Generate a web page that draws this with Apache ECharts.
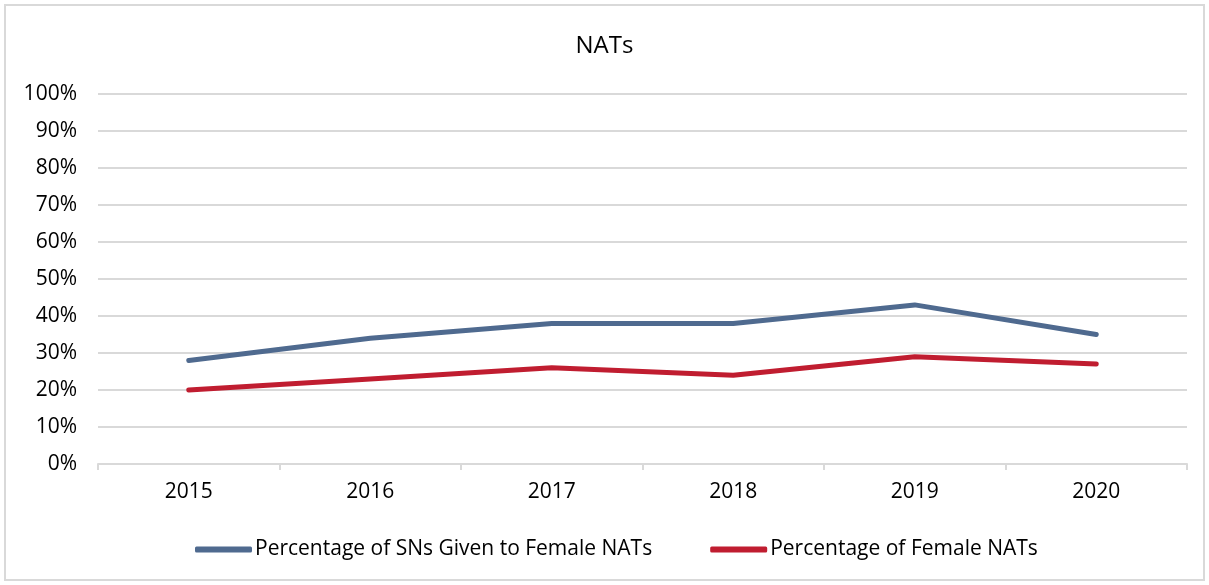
<!DOCTYPE html>
<html>
<head>
<meta charset="utf-8">
<script src="https://cdn.jsdelivr.net/npm/echarts@6/dist/echarts.min.js"></script>
<style>
  html, body { margin: 0; padding: 0; background: #fff; }
  #main { width: 1209px; height: 585px; }
</style>
</head>
<body>
<div id="main"></div>
<script>
// data
var years = ['2015', '2016', '2017', '2018', '2019', '2020'];
var snsFemale = [28, 34, 38, 38, 43, 35];
var femaleNats = [20, 23, 26, 24, 29, 27];
var seriesNames = ['Percentage of SNs Given to Female NATs', 'Percentage of Female NATs'];

var myChart = echarts.init(document.getElementById('main'));
var font = 'Open Sans';

var option = {
    animation: false,
    graphic: [{
        type: 'rect',
        shape: { x: 5, y: 5, width: 1199, height: 575 },
        style: { fill: 'none', stroke: '#d9d9d9', lineWidth: 2 },
        silent: true
    }],
    title: {
        text: 'NATs',
        left: 'center',
        top: 29,
        textStyle: { color: '#000', fontSize: 24, fontWeight: 'normal', fontFamily: font }
    },
    legend: {
        bottom: 20,
        left: 190,
        icon: 'roundRect',
        itemWidth: 57,
        itemHeight: 6,
        itemGap: 58,
        textStyle: { color: '#000', fontSize: 21, fontFamily: font, padding: [0, 0, 0, -2] },
        data: seriesNames
    },
    grid: {
        left: 98,
        right: 22,
        top: 94,
        bottom: 121,
        containLabel: false
    },
    xAxis: {
        type: 'category',
        boundaryGap: true,
        data: years,
        axisLine: { lineStyle: { color: '#d9d9d9', width: 2 } },
        axisTick: { show: true, length: 6, lineStyle: { color: '#d9d9d9', width: 2 } },
        axisLabel: { color: '#000', fontSize: 21, fontFamily: font, margin: 18 }
    },
    yAxis: {
        type: 'value',
        min: 0,
        max: 100,
        interval: 10,
        axisLine: { show: false },
        axisTick: { show: false },
        axisLabel: { color: '#000', fontSize: 21, fontFamily: font, margin: 21, formatter: '{value}%' },
        splitLine: { lineStyle: { color: '#d9d9d9', width: 2 } }
    },
    series: [
        {
            name: seriesNames[0],
            type: 'line',
            data: snsFemale,
            symbol: 'none',
            lineStyle: { color: '#4f6a8f', width: 5, cap: 'round', join: 'round' },
            itemStyle: { color: '#4f6a8f' }
        },
        {
            name: seriesNames[1],
            type: 'line',
            data: femaleNats,
            symbol: 'none',
            lineStyle: { color: '#c01d30', width: 5, cap: 'round', join: 'round' },
            itemStyle: { color: '#c01d30' }
        }
    ]
};
myChart.setOption(option);
</script>
</body>
</html>
